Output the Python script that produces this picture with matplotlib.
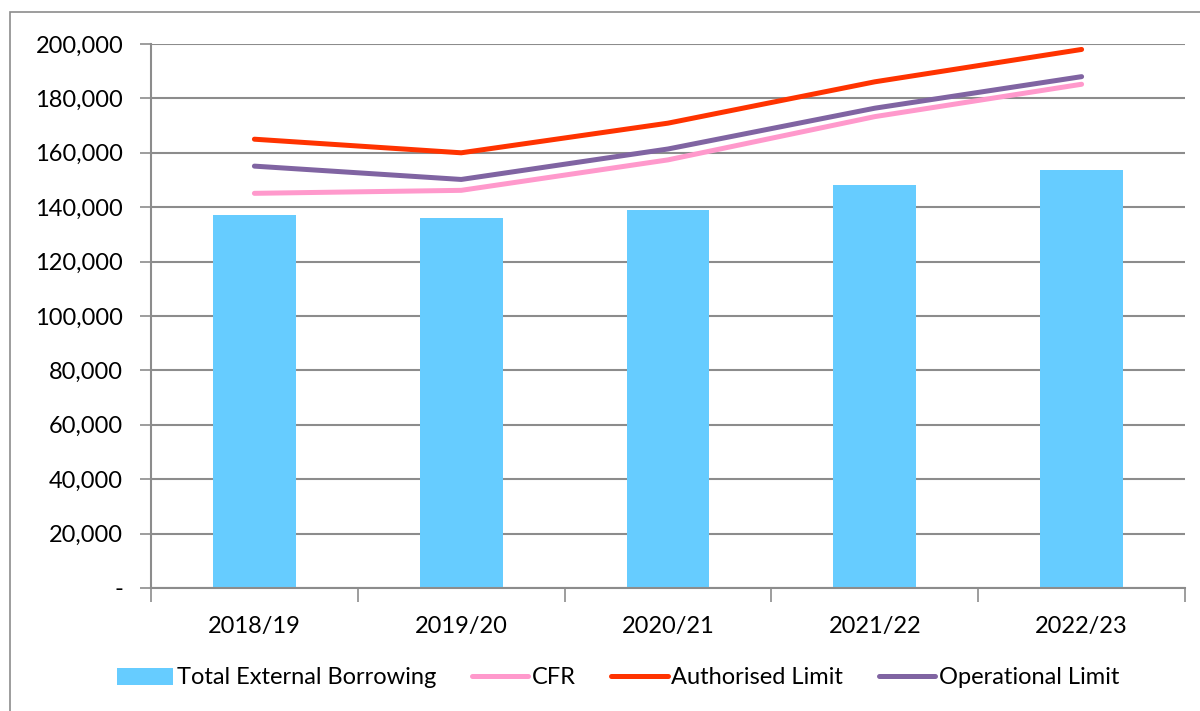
import matplotlib
matplotlib.use("Agg")
import matplotlib.pyplot as plt
from matplotlib.patches import Rectangle
import numpy as np

plt.rcParams['font.family'] = ['Lato', 'DejaVu Sans']

years = ["2018/19", "2019/20", "2020/21", "2021/22", "2022/23"]
borrowing = [137300, 136000, 139000, 148000, 153700]
cfr = [145100, 146200, 157400, 173300, 185200]
authorised = [165000, 160000, 170900, 186100, 198000]
operational = [155100, 150200, 161400, 176400, 188000]
yticks = [0, 20000, 40000, 60000, 80000, 100000, 120000, 140000, 160000, 180000, 200000]
ytick_labels = ["-"] + [f"{v:,}" for v in yticks[1:]]

W, H = 1200, 711
fig = plt.figure(figsize=(12, 7.11), dpi=100)
fig.patches.append(Rectangle((10 / W, -0.1), 1.2, (711 - 12) / H + 0.1, transform=fig.transFigure,
                             fill=False, edgecolor='#8c8c8c', linewidth=1.2))

ax = fig.add_axes([151 / W, 1 - 588 / H, (1185 - 151) / W, (588 - 44) / H])
x = np.arange(len(years))
b = ax.bar(x, borrowing, width=0.4, color='#66CCFF', label='Total External Borrowing', zorder=2)
l1, = ax.plot(x, cfr, color='#FF99CC', lw=3.6, label='CFR', zorder=3, solid_capstyle='round')
l2, = ax.plot(x, authorised, color='#FF3300', lw=3.6, label='Authorised Limit', zorder=3, solid_capstyle='round')
l3, = ax.plot(x, operational, color='#8064A2', lw=3.6, label='Operational Limit', zorder=3, solid_capstyle='round')

ax.set_xlim(-0.5, len(years) - 0.5)
ax.set_ylim(0, 200000)
ax.set_yticks(yticks)
ax.set_yticklabels(ytick_labels, fontsize=17)
ax.yaxis.grid(True, color='#8c8c8c', lw=1.5, zorder=0)
ax.set_axisbelow(True)
ax.tick_params(axis='y', length=8, color='#8c8c8c', width=1.2, pad=12)

ax.set_xticks(x)
ax.set_xticklabels(years, fontsize=17)
ax.set_xticks(np.arange(len(years) + 1) - 0.5, minor=True)
ax.tick_params(axis='x', which='major', length=0, pad=20)
ax.tick_params(axis='x', which='minor', length=10, color='#8c8c8c', width=1.2)

for s in ['top', 'right']:
    ax.spines[s].set_visible(False)
for s in ['left', 'bottom']:
    ax.spines[s].set_color('#8c8c8c')
    ax.spines[s].set_linewidth(1.5)

fig.legend([b, l1, l2, l3], ['Total External Borrowing', 'CFR', 'Authorised Limit', 'Operational Limit'],
           loc='center', bbox_to_anchor=(0.515, 1 - 678 / H), ncol=4, frameon=False,
           fontsize=17, handlelength=2.4, handletextpad=0.15, columnspacing=1.5)

fig.savefig('out.png', dpi=100)
